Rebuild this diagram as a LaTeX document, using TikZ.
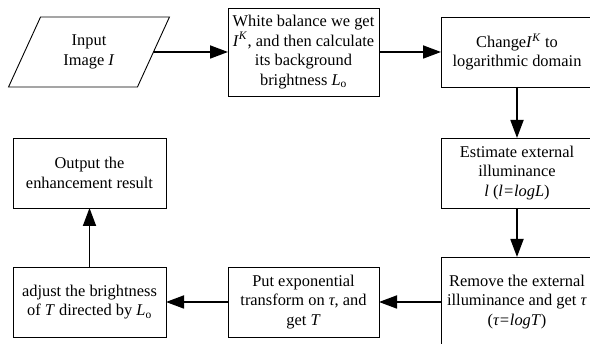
\documentclass[tikz,border=0pt]{standalone}
\usepackage{fontspec}
\setmainfont{Liberation Serif}
\usetikzlibrary{shapes.geometric,arrows.meta}
\begin{document}
\begin{tikzpicture}[x=1pt,y=-1pt,
  box/.style={draw, line width=0.9pt, rectangle, align=center, inner sep=0pt, outer sep=0pt,
    font=\fontsize{16.4}{19.5}\selectfont},
  flow/.style={line width=1.8pt, -{Triangle[length=18pt,width=13pt]}}]
\useasboundingbox (0,0) rectangle (590,344);
\clip (0,0) rectangle (590,344);
\node[box, trapezium, trapezium stretches=true, trapezium left angle=63.4,
  trapezium right angle=116.6, minimum width=162pt, minimum height=70pt]
  (in) at (89,52) {Input\\Image \textit{I}};
\node[box, minimum width=151pt, minimum height=88pt] (b2) at (303.5,52)
  {White balance we get\\\textit{I}\textsuperscript{\textit{K}}, and then calculate\\its background\\brightness \textit{L}\textsubscript{o}};
\node[box, minimum width=152pt, minimum height=70pt] (b3) at (517,52)
  {Change\textit{I}\textsuperscript{\textit{K}} to\\logarithmic domain};
\node[box, minimum width=152pt, minimum height=70pt] (b4) at (517,173)
  {Estimate external\\illuminance\\\textit{l} (\textit{l=logL})};
\node[box, minimum width=152pt, minimum height=90pt] (b5) at (517,302)
  {Remove the external\\illuminance and get \textit{τ}\\(\textit{τ=logT})};
\node[box, minimum width=151pt, minimum height=70pt] (b6) at (303.5,302)
  {Put exponential\\transform on \textit{τ}, and\\get \textit{T}};
\node[box, minimum width=153pt, minimum height=70pt] (b7) at (89.5,302)
  {adjust the brightness\\of \textit{T} directed by \textit{L}\textsubscript{o}};
\node[box, minimum width=153pt, minimum height=70pt] (b8) at (89.5,173)
  {Output the\\enhancement result};
\draw[flow] (in.east) -- (b2.west);
\draw[flow] (b2.east) -- (b3.west);
\draw[flow] (b3.south) -- (b4.north);
\draw[flow] (b4.south) -- (b5.north);
\draw[flow] (b5.west) -- (b6.east);
\draw[flow] (b6.west) -- (b7.east);
\draw[flow] (b7.north) -- (b8.south);
\end{tikzpicture}
\end{document}
